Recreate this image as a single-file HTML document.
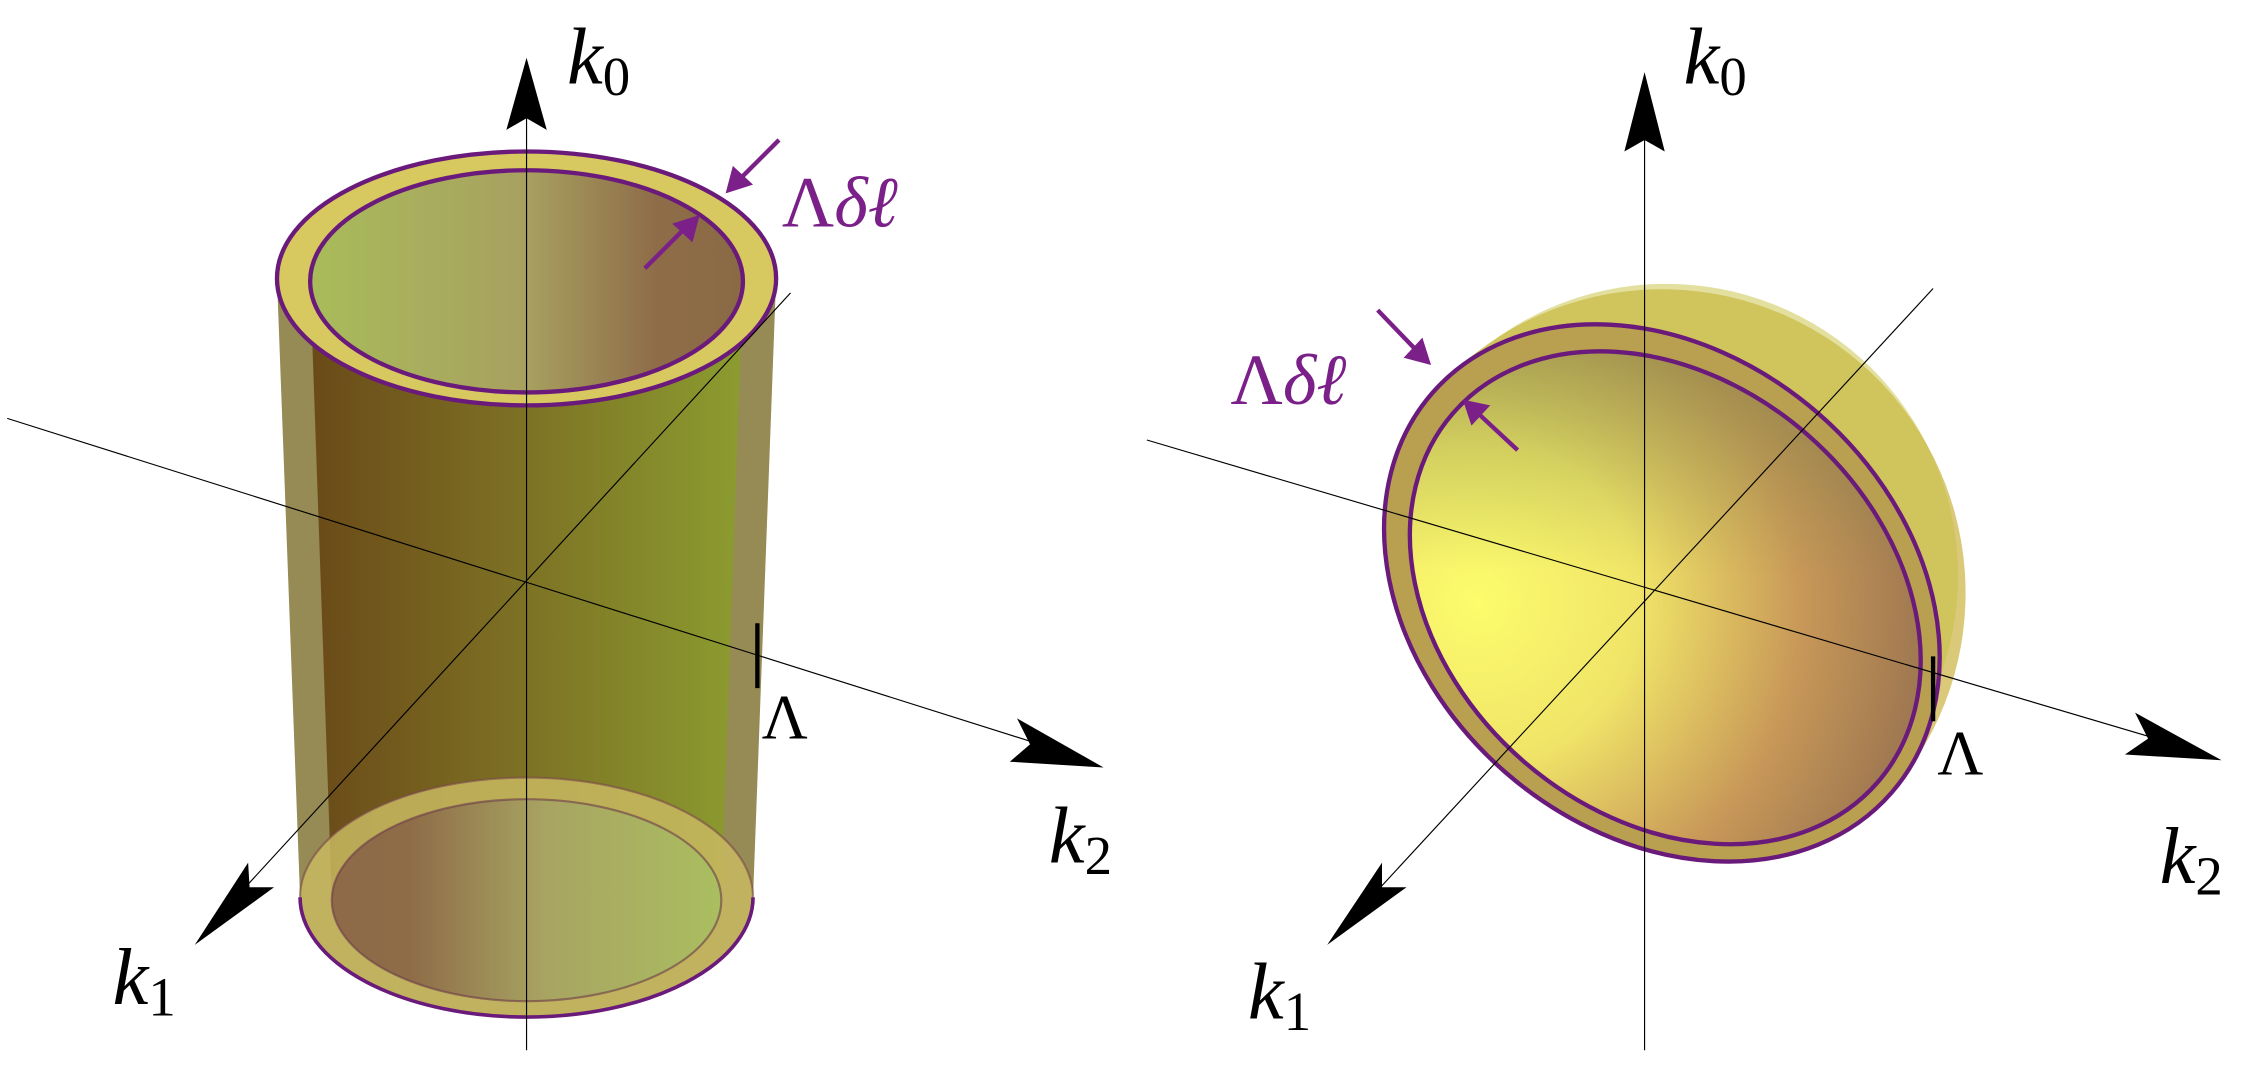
<!DOCTYPE html>
<html><head><meta charset="utf-8"><style>
html,body{margin:0;padding:0;background:#fff;}
svg{display:block;}
</style></head><body>
<svg width="2262" height="1070" viewBox="0 0 1568 741.7" xmlns="http://www.w3.org/2000/svg" font-family="'Liberation Serif','DejaVu Serif',serif">
<defs>
<linearGradient id="body" x1="0" x2="1" y1="0" y2="0">
<stop offset="0" stop-color="#6a4a18"/><stop offset="0.4" stop-color="#7a6a22"/><stop offset="1" stop-color="#8c9c30"/>
</linearGradient>
<linearGradient id="topin" x1="0" x2="1" y1="0" y2="0">
<stop offset="0" stop-color="#a8bc5a"/><stop offset="0.5" stop-color="#a8a060"/><stop offset="0.8" stop-color="#8e6c48"/><stop offset="1" stop-color="#8a6a45"/>
</linearGradient>
<linearGradient id="botin" x1="0" x2="1" y1="0" y2="0">
<stop offset="0" stop-color="#8e6a48"/><stop offset="0.2" stop-color="#8e6c48"/><stop offset="0.55" stop-color="#a8a462"/><stop offset="1" stop-color="#aabe60"/>
</linearGradient>
<radialGradient id="disk" cx="1060" cy="500" r="320" gradientUnits="userSpaceOnUse">
<stop offset="0" stop-color="#fcfc6c"/><stop offset="0.35" stop-color="#f0e468"/><stop offset="0.7" stop-color="#c89858"/><stop offset="1" stop-color="#9a7450"/>
</radialGradient>
<linearGradient id="diskshade" x1="980" y1="250" x2="1120" y2="420" gradientUnits="userSpaceOnUse">
<stop offset="0" stop-color="#6a7a40" stop-opacity="0.6"/><stop offset="1" stop-color="#6a8a40" stop-opacity="0"/>
</linearGradient>
</defs>

<!-- LEFT PANEL -->
<path d="M192,193 L208,622 A157,83 0 0 0 522,622 L538,193 Z" fill="#968a55"/>
<path d="M215,195 L230,622 A135,70 0 0 0 500,622 L515,195 Z" fill="url(#body)"/>
<ellipse cx="365" cy="622" rx="157" ry="83" fill="#c8b860" opacity="0.85"/>
<ellipse cx="365" cy="624" rx="135" ry="70" fill="url(#botin)"/>
<path d="M208,622 A157,83 0 0 0 522,622" fill="none" stroke="#6a1a7a" stroke-width="2.5"/>
<path d="M208,622 A157,83 0 0 1 522,622" fill="none" stroke="#7a4a4a" stroke-width="1.5" opacity="0.6"/>
<ellipse cx="365" cy="624" rx="135" ry="70" fill="none" stroke="#6a3a4a" stroke-width="1.5" opacity="0.6"/>
<ellipse cx="365" cy="193" rx="173" ry="88" fill="#d8c860" stroke="#6a1a7a" stroke-width="3"/>
<ellipse cx="365" cy="195" rx="150" ry="77" fill="url(#topin)" stroke="#6a1a7a" stroke-width="3"/>
<line x1="365" y1="70" x2="365" y2="728" stroke="#000" stroke-width="0.8"/>
<polygon points="365,40 351,90 365,82 379,90" fill="#000"/>
<line x1="5" y1="290" x2="740" y2="522" stroke="#000" stroke-width="0.8"/>
<polygon points="765,532 705,498 714,516 700,528" fill="#000"/>
<line x1="548" y1="203" x2="160" y2="626" stroke="#000" stroke-width="0.8"/>
<polygon points="135,655 172,598 173,615 190,615" fill="#000"/>
<line x1="525" y1="432" x2="525" y2="477" stroke="#000" stroke-width="3"/>
<text x="528" y="512" font-size="44">Λ</text>
<text x="393" y="58" font-size="56" font-style="italic">k<tspan font-style="normal" font-size="38" dy="8">0</tspan></text>
<text x="727" y="598" font-size="56" font-style="italic">k<tspan font-style="normal" font-size="38" dy="8">2</tspan></text>
<text x="78" y="696" font-size="56" font-style="italic">k<tspan font-style="normal" font-size="38" dy="8">1</tspan></text>
<text x="542" y="157" font-size="50" fill="#7a2088">Λ<tspan font-style="italic">δℓ</tspan></text>
<line x1="540" y1="97" x2="512" y2="125" stroke="#7a2088" stroke-width="3"/>
<polygon points="503,134 508,115 522,128" fill="#7a2088"/>
<line x1="447" y1="186" x2="475" y2="158" stroke="#7a2088" stroke-width="3"/>
<polygon points="485,149 480,168 466,155" fill="#7a2088"/>

<!-- RIGHT PANEL -->
<path d="M993,273 A205,205 0 0 1 1311,549 Z" fill="#d0bc58" opacity="0.8"/>
<path d="M1010,258 A190,190 0 0 1 1300,540 Z" fill="#c8c040" opacity="0.5"/>
<g transform="rotate(41 1152 411)">
<ellipse cx="1152" cy="411" rx="211" ry="165" fill="#b8a050" stroke="#6a1a7a" stroke-width="3"/>
<ellipse cx="1156" cy="412" rx="195" ry="150" fill="url(#disk)"/>
<ellipse cx="1156" cy="412" rx="195" ry="150" fill="url(#diskshade)"/>
<ellipse cx="1156" cy="412" rx="195" ry="150" fill="none" stroke="#6a1a7a" stroke-width="3"/>
</g>
<line x1="1140" y1="80" x2="1140" y2="728" stroke="#000" stroke-width="0.8"/>
<polygon points="1140,50 1126,105 1140,97 1154,105" fill="#000"/>
<line x1="795" y1="305" x2="1515" y2="518" stroke="#000" stroke-width="0.8"/>
<polygon points="1540,527 1480,494 1489,512 1473,523" fill="#000"/>
<line x1="1340" y1="200" x2="945" y2="628" stroke="#000" stroke-width="0.8"/>
<polygon points="920,655 958,598 958,615 975,615" fill="#000"/>
<line x1="1340" y1="455" x2="1340" y2="500" stroke="#000" stroke-width="3"/>
<text x="1343" y="537" font-size="44">Λ</text>
<text x="1167" y="58" font-size="56" font-style="italic">k<tspan font-style="normal" font-size="38" dy="8">0</tspan></text>
<text x="1497" y="612" font-size="56" font-style="italic">k<tspan font-style="normal" font-size="38" dy="8">2</tspan></text>
<text x="865" y="706" font-size="56" font-style="italic">k<tspan font-style="normal" font-size="38" dy="8">1</tspan></text>
<text x="853" y="280" font-size="50" fill="#7a2088">Λ<tspan font-style="italic">δℓ</tspan></text>
<line x1="955" y1="215" x2="982" y2="243" stroke="#7a2088" stroke-width="3"/>
<polygon points="992,253 973,248 986,234" fill="#7a2088"/>
<line x1="1052" y1="312" x2="1024" y2="286" stroke="#7a2088" stroke-width="3"/>
<polygon points="1014,277 1033,281 1020,295" fill="#7a2088"/>
</svg>
</body></html>
